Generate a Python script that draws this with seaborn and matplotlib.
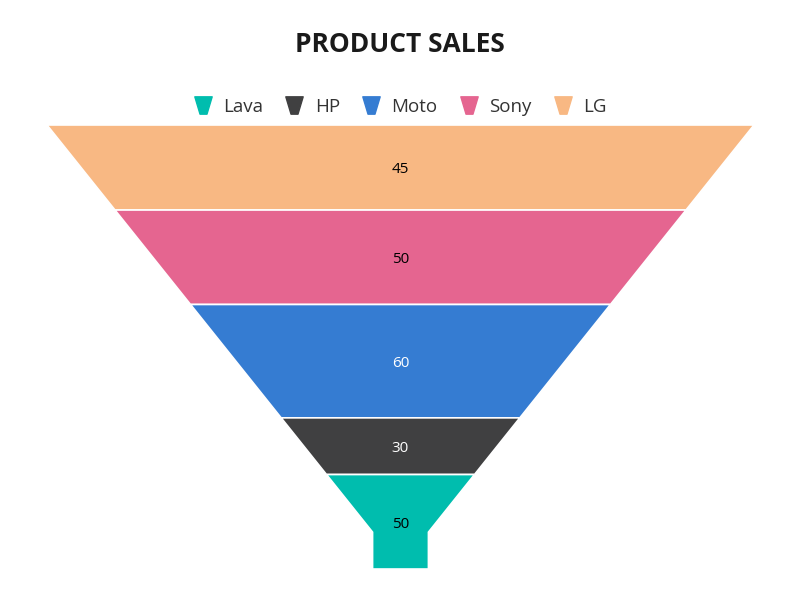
import numpy as np
import matplotlib
matplotlib.use('Agg')
import matplotlib.pyplot as plt
from matplotlib.path import Path
from matplotlib.lines import Line2D
import seaborn as sns

# Chart data (bottom of funnel first, same order as the legend)
brands = ['Lava', 'HP', 'Moto', 'Sony', 'LG']
sales = [50, 30, 60, 50, 45]
colors = ['#00BDAE', '#404041', '#357CD2', '#E56590', '#F8B883']
label_colors = ['black', 'white', 'white', 'black', 'black']

sns.set_theme(style='white')
plt.rcParams['font.family'] = ['Open Sans', 'DejaVu Sans']

# funnel shape settings
neck_width = 0.079   # fraction of the top width
neck_height = 0.083  # fraction of the total height


def funnel_width(y, total):
    neck_top = total * (1 - neck_height)
    if y >= neck_top:
        return neck_width
    return 1 - (1 - neck_width) * y / neck_top


def segment_polygon(y0, y1, total):
    """Polygon of a funnel slice between y0 (top) and y1 (bottom)"""
    neck_top = total * (1 - neck_height)
    ys = [y0]
    if y0 < neck_top < y1:
        ys.append(neck_top)
    ys.append(y1)
    right = [(funnel_width(y, total) / 2, y) for y in ys]
    left = [(-funnel_width(y, total) / 2, y) for y in reversed(ys)]
    return right + left


fig = plt.figure(figsize=(8, 6), dpi=100)
ax = fig.add_axes([47 / 800, 1 - 569 / 600, 707 / 800, 444 / 600])

total = sum(sales)
# top slice is the last brand
order = list(range(len(brands)))[::-1]
y = 0
for i in order:
    poly = segment_polygon(y, y + sales[i], total)
    ax.fill([p[0] for p in poly], [p[1] for p in poly], color=colors[i],
            edgecolor='white', linewidth=1.2)
    ax.text(0, y + sales[i] / 2 + 1.2, str(sales[i]), ha='center', va='center',
            fontsize=11, color=label_colors[i])
    y += sales[i]

ax.set_xlim(-0.5, 0.5)
ax.set_ylim(total, 0)
ax.axis('off')

fig.text(0.5, 1 - 45 / 600, 'PRODUCT SALES', ha='center', va='center',
         fontsize=19, fontweight='bold', color='#1a1a1a')

# trapezoid marker for the legend
trap = Path([(-0.5, 0.5), (0.5, 0.5), (0.2, -0.5), (-0.2, -0.5), (-0.5, 0.5)],
            [Path.MOVETO, Path.LINETO, Path.LINETO, Path.LINETO, Path.CLOSEPOLY])
handles = [Line2D([], [], linestyle='none', marker=trap, markersize=12.5,
                  markerfacecolor=c, markeredgecolor=c) for c in colors]
fig.legend(handles, brands, loc='center', bbox_to_anchor=(0.5, 1 - 107 / 600),
           ncol=5, frameon=False, fontsize=13.5, handletextpad=0.6,
           columnspacing=1.15, handlelength=1.0, labelcolor='#333333')

fig.savefig('out.png', dpi=100)
